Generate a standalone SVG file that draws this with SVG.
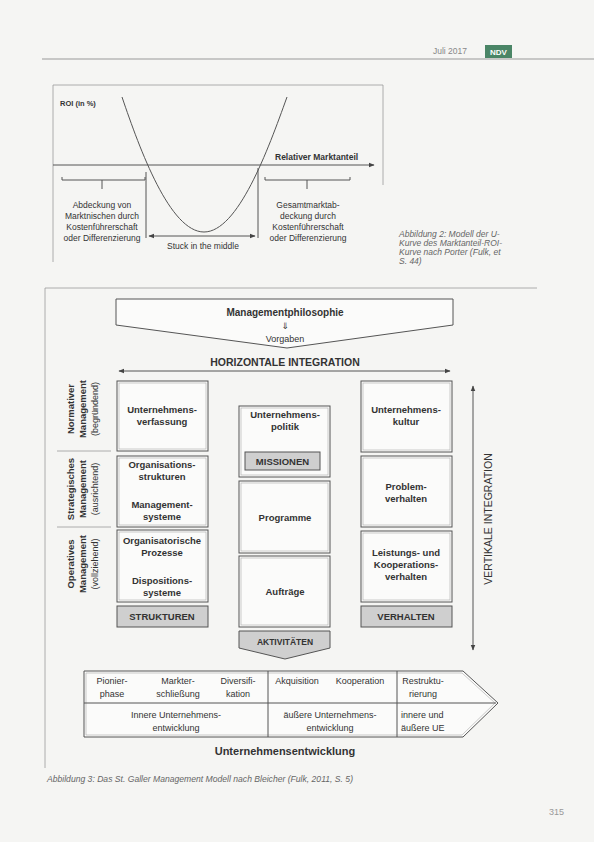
<svg xmlns="http://www.w3.org/2000/svg" width="594" height="842" viewBox="0 0 594 842">
<defs>
<style>
.t{font-family:"Liberation Sans",Arial,sans-serif;fill:#333}
.b{font-weight:bold;font-size:9.5px}
.n{font-size:9px}
.s{font-size:8.5px}
.c{text-anchor:middle}
.i{font-style:italic;font-size:8.5px;fill:#666}
.ln{stroke:#555;stroke-width:1;fill:none}
.lg{stroke:#999;stroke-width:0.8;fill:none}
.box{fill:#fbfbfa;stroke:#555;stroke-width:1}
.inner{fill:none;stroke:#aaa;stroke-width:0.6}
.gray{fill:#cfcfcf;stroke:#555;stroke-width:1}
</style>
<marker id="ah" viewBox="0 0 10 10" refX="9" refY="5" markerWidth="6" markerHeight="6" orient="auto-start-reverse">
<path d="M0,1 L10,5 L0,9 z" fill="#444"/>
</marker>
</defs>
<rect x="0" y="0" width="594" height="842" fill="#f5f5f3"/>

<!-- header -->
<g id="header">
<line x1="42" y1="59" x2="594" y2="59" stroke="#999" stroke-width="1"/>
<text class="t" x="433" y="54" font-size="8.5" style="fill:#888">Juli 2017</text>
<rect x="485" y="45" width="27" height="13" fill="#4a8566"/>
<text class="t c" x="498.5" y="55" font-size="8" font-weight="bold" style="fill:#fff">NDV</text>
</g>

<!-- figure 2 -->
<g id="fig2">
<path d="M53,262 L53,85 L383,85 L383,185" class="lg"/>
<text class="t" x="60" y="106" font-size="7.5" font-weight="bold">ROI (in %)</text>
<line x1="53" y1="165" x2="374" y2="165" class="ln" marker-end="url(#ah)"/>
<text class="t" x="275" y="160" font-size="8.5" font-weight="bold">Relativer Marktanteil</text>
<path d="M122,97 C140,150 170,232 204,232 C238,232 268,150 287,97" class="ln"/>
<path d="M62,177 L62,180 L145,180 L145,177 M102,180 L102,189" class="ln"/>
<path d="M265,177 L265,180 L350,180 L350,177 M307,180 L307,189" class="ln"/>
<line x1="146" y1="172" x2="146" y2="238" class="ln"/>
<line x1="258" y1="168" x2="258" y2="238" class="ln"/>
<line x1="149" y1="236" x2="255" y2="236" class="ln" marker-start="url(#ah)" marker-end="url(#ah)"/>
<text class="t s c" x="203" y="249">Stuck in the middle</text>
<text class="t s c" x="102" y="208">Abdeckung von</text>
<text class="t s c" x="102" y="219">Marktnischen durch</text>
<text class="t s c" x="102" y="230">Kostenführerschaft</text>
<text class="t s c" x="102" y="241">oder Differenzierung</text>
<text class="t s c" x="308" y="208">Gesamtmarktab-</text>
<text class="t s c" x="308" y="219">deckung durch</text>
<text class="t s c" x="308" y="230">Kostenführerschaft</text>
<text class="t s c" x="308" y="241">oder Differenzierung</text>
</g>
<g id="caption2">
<text class="t i" x="399" y="237">Abbildung 2: Modell der U-</text>
<text class="t i" x="399" y="246">Kurve des Marktanteil-ROI-</text>
<text class="t i" x="399" y="255">Kurve nach Porter (Fulk, et</text>
<text class="t i" x="399" y="264">S. 44)</text>
</g>

<!-- figure 3 frame -->
<path d="M45,768 L45,288 L537,288" class="lg"/>

<g id="philosophie">
<path d="M116,299 L453,299 L453,325 L287,348 L116,325 Z" class="box"/>
<text class="t c" x="285" y="316" font-size="10" font-weight="bold">Managementphilosophie</text>
<text x="285" y="329" font-size="9" text-anchor="middle" font-family="DejaVu Sans,sans-serif" fill="#333">⇓</text>
<text class="t n c" x="285" y="342">Vorgaben</text>
</g>

<g id="horizontal">
<text class="t c" x="285" y="366" font-size="10.5" font-weight="bold">HORIZONTALE INTEGRATION</text>
</g>

<g id="connectors">
<line x1="119" y1="371" x2="450" y2="371" class="ln" marker-start="url(#ah)" marker-end="url(#ah)"/>
<line x1="473" y1="386" x2="473" y2="650" class="ln" marker-start="url(#ah)" marker-end="url(#ah)"/>
</g>

<g id="vertical">
<text class="t c" transform="rotate(-90 492 519)" x="492" y="519" font-size="10.5">VERTIKALE INTEGRATION</text>
</g>

<!-- left labels -->
<g id="normativ">
<text class="t b c" transform="rotate(-90 74 409)" x="74" y="409">Normativer</text>
<text class="t b c" transform="rotate(-90 86 409)" x="86" y="409">Management</text>
<text class="t n c" transform="rotate(-90 98 409)" x="98" y="409">(begründend)</text>
</g>
<line x1="57" y1="451" x2="111" y2="451" class="lg"/>
<g id="strategisch">
<text class="t b c" transform="rotate(-90 74 489)" x="74" y="489">Strategisches</text>
<text class="t b c" transform="rotate(-90 86 489)" x="86" y="489">Management</text>
<text class="t n c" transform="rotate(-90 98 489)" x="98" y="489">(ausrichtend)</text>
</g>
<line x1="57" y1="527" x2="111" y2="527" class="lg"/>
<g id="operativ">
<text class="t b c" transform="rotate(-90 74 564)" x="74" y="564">Operatives</text>
<text class="t b c" transform="rotate(-90 86 564)" x="86" y="564">Management</text>
<text class="t n c" transform="rotate(-90 98 564)" x="98" y="564">(vollziehend)</text>
</g>

<!-- left column -->
<g id="verfassung">
<rect x="117" y="381" width="91" height="70" class="box"/><rect x="119" y="383" width="87" height="66" class="inner"/>
<text class="t b c" x="162" y="413">Unternehmens-</text>
<text class="t b c" x="162" y="425">verfassung</text>
</g>
<g id="strukturen-org">
<rect x="117" y="456" width="91" height="71" class="box"/><rect x="119" y="458" width="87" height="67" class="inner"/>
<text class="t b c" x="162" y="468">Organisations-</text>
<text class="t b c" x="162" y="480">strukturen</text>
<text class="t b c" x="162" y="508">Management-</text>
<text class="t b c" x="162" y="520">systeme</text>
</g>
<g id="prozesse">
<rect x="117" y="530" width="91" height="72" class="box"/><rect x="119" y="532" width="87" height="68" class="inner"/>
<text class="t b c" x="162" y="544">Organisatorische</text>
<text class="t b c" x="162" y="556">Prozesse</text>
<text class="t b c" x="162" y="584">Dispositions-</text>
<text class="t b c" x="162" y="596">systeme</text>
</g>
<g id="strukturen">
<rect x="117" y="606" width="91" height="21" class="gray"/>
<text class="t b c" x="162" y="620">STRUKTUREN</text>
</g>

<!-- middle column -->
<g id="politik">
<rect x="239" y="406" width="91" height="71" class="box"/><rect x="241" y="408" width="87" height="67" class="inner"/>
<text class="t b c" x="285" y="418">Unternehmens-</text>
<text class="t b c" x="285" y="430">politik</text>
<rect x="245" y="452" width="75" height="18" class="gray"/>
<text class="t b c" x="282.5" y="465">MISSIONEN</text>
</g>
<g id="programme">
<rect x="239" y="481" width="91" height="72" class="box"/><rect x="241" y="483" width="87" height="68" class="inner"/>
<text class="t b c" x="285" y="521">Programme</text>
</g>
<g id="auftraege">
<rect x="239" y="556" width="91" height="71" class="box"/><rect x="241" y="558" width="87" height="67" class="inner"/>
<text class="t b c" x="285" y="595">Aufträge</text>
</g>
<g id="aktivitaeten">
<path d="M239,631 L330,631 L330,648 L285,659 L239,648 Z" class="gray"/>
<text class="t c" x="285" y="645" font-size="8.5" font-weight="bold">AKTIVITÄTEN</text>
</g>

<!-- right column -->
<g id="kultur">
<rect x="361" y="381" width="91" height="71" class="box"/><rect x="363" y="383" width="87" height="67" class="inner"/>
<text class="t b c" x="406" y="413">Unternehmens-</text>
<text class="t b c" x="406" y="425">kultur</text>
</g>
<g id="problem">
<rect x="361" y="456" width="91" height="71" class="box"/><rect x="363" y="458" width="87" height="67" class="inner"/>
<text class="t b c" x="406" y="490">Problem-</text>
<text class="t b c" x="406" y="502">verhalten</text>
</g>
<g id="leistung">
<rect x="361" y="531" width="91" height="71" class="box"/><rect x="363" y="533" width="87" height="67" class="inner"/>
<text class="t b c" x="406" y="556">Leistungs- und</text>
<text class="t b c" x="406" y="568">Kooperations-</text>
<text class="t b c" x="406" y="580">verhalten</text>
</g>
<g id="verhalten">
<rect x="361" y="606" width="91" height="21" class="gray"/>
<text class="t b c" x="406" y="620">VERHALTEN</text>
</g>

<!-- development arrow -->
<g id="entwicklung">
<path d="M84,671 L463,671 L498,703 L463,737 L84,737 Z" class="box"/>
<path d="M86,673 L462,673 L495,703 L462,735 L86,735 Z" class="inner"/>
<line x1="268" y1="671" x2="268" y2="737" class="ln"/>
<line x1="397" y1="671" x2="397" y2="737" class="ln"/>
<line x1="84" y1="703" x2="496" y2="703" class="ln"/>
<text class="t n c" x="112" y="684">Pionier-</text>
<text class="t n c" x="112" y="697">phase</text>
<text class="t n c" x="178" y="684">Markter-</text>
<text class="t n c" x="178" y="697">schließung</text>
<text class="t n c" x="238" y="684">Diversifi-</text>
<text class="t n c" x="238" y="697">kation</text>
<text class="t n c" x="297" y="684">Akquisition</text>
<text class="t n c" x="360" y="684">Kooperation</text>
<text class="t n c" x="423" y="684">Restruktu-</text>
<text class="t n c" x="423" y="697">rierung</text>
<text class="t n c" x="176" y="718">Innere Unternehmens-</text>
<text class="t n c" x="176" y="731">entwicklung</text>
<text class="t n c" x="330" y="718">äußere Unternehmens-</text>
<text class="t n c" x="330" y="731">entwicklung</text>
<text class="t n" x="401" y="718">innere und</text>
<text class="t n" x="401" y="731">äußere UE</text>
</g>
<g id="ue-title">
<text class="t c" x="285" y="755" font-size="11" font-weight="bold">Unternehmensentwicklung</text>
</g>

<g id="caption3">
<text class="t i" x="47" y="782" textLength="306" lengthAdjust="spacingAndGlyphs">Abbildung 3: Das St. Galler Management Modell nach Bleicher (Fulk, 2011, S. 5)</text>
</g>
<text class="t" x="549" y="815" font-size="9" style="fill:#999">315</text>
</svg>
